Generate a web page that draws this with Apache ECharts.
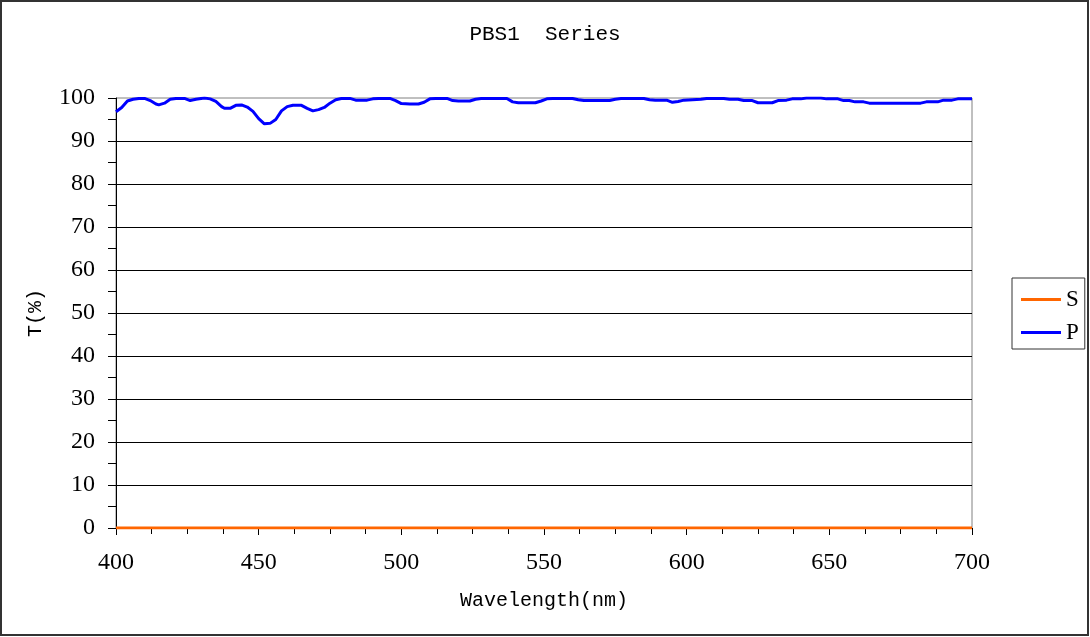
<!DOCTYPE html>
<html>
<head>
<meta charset="utf-8">
<script src="https://cdn.jsdelivr.net/npm/echarts@6/dist/echarts.min.js"></script>
<style>
  html, body { margin: 0; padding: 0; background: #fff; }
  #chart { width: 1090px; height: 637px; }
</style>
</head>
<body>
<div id="chart"></div>
<script>
// Transmission of PBS1 in S and P polarisation, wavelength in nm, T in %
const pWavelength = [400, 402, 404, 406, 408, 410, 412, 414, 415, 417, 419, 421, 424, 426, 428, 431, 433, 435, 437, 438,
  440, 442, 444, 446, 448, 450, 452, 454, 456, 458, 460, 462, 465, 467, 469, 471, 473, 475, 477, 479,
  482, 484, 488, 490, 492, 496, 498, 500, 503, 506, 508, 510, 512, 516, 518, 520, 524, 526, 528, 537,
  539, 541, 547, 549, 551, 553, 560, 562, 564, 573, 575, 577, 585, 587, 589, 593, 595, 597, 599, 602,
  605, 607, 613, 615, 618, 620, 623, 625, 630, 632, 635, 637, 640, 642, 647, 649, 653, 655, 657, 659,
  662, 664, 682, 684, 688, 690, 693, 695, 700];
const pValues = [96.8, 97.8, 99.3, 99.7, 99.9, 99.9, 99.4, 98.6, 98.4, 98.8, 99.7, 99.9, 99.9, 99.4, 99.7, 100, 99.8, 99.2, 98.0, 97.6,
  97.6, 98.3, 98.4, 97.9, 96.9, 95.2, 94.0, 94.1, 95.0, 97.0, 98.0, 98.3, 98.3, 97.6, 97.0, 97.3, 97.8, 98.8, 99.6, 99.9,
  99.9, 99.5, 99.5, 99.8, 99.9, 99.9, 99.4, 98.7, 98.6, 98.6, 99.0, 99.8, 99.9, 99.9, 99.4, 99.3, 99.3, 99.7, 99.9, 99.9,
  99.1, 98.9, 98.9, 99.3, 99.8, 99.9, 99.9, 99.6, 99.4, 99.4, 99.7, 99.9, 99.9, 99.6, 99.5, 99.5, 99.0, 99.2, 99.5, 99.6,
  99.7, 99.9, 99.9, 99.7, 99.7, 99.4, 99.4, 98.9, 98.9, 99.4, 99.5, 99.8, 99.8, 100, 100, 99.8, 99.8, 99.4, 99.4, 99.1,
  99.1, 98.8, 98.8, 99.1, 99.1, 99.5, 99.5, 99.8, 99.8];

const sWavelength = [400, 450, 500, 550, 600, 650, 700];
const sValues = [0, 0, 0, 0, 0, 0, 0];

const seriesNames = ['S', 'P'];

const zip = (xs, ys) => xs.map((x, i) => [x, ys[i]]);

const serif = 'Liberation Serif';
const mono = 'Liberation Mono';

const chart = echarts.init(document.getElementById('chart'), null, { renderer: 'canvas' });
chart.setOption({
  animation: false,
  backgroundColor: '#fff',
  title: {
    text: 'PBS1  Series',
    left: 'center',
    top: 24,
    padding: 0,
    textStyle: { fontFamily: mono, fontSize: 21, fontWeight: 'normal', color: '#000' }
  },
  graphic: [{
    type: 'rect',
    shape: { x: 1, y: 1, width: 1087, height: 634 },
    style: { fill: 'none', stroke: '#333', lineWidth: 2 },
    silent: true
  }],
  legend: {
    orient: 'vertical',
    left: 1012,
    top: 278,
    padding: [10, 6, 5, 9],
    itemGap: 10,
    itemWidth: 40,
    itemHeight: 3,
    icon: 'rect',
    borderColor: '#333',
    borderWidth: 1,
    data: seriesNames,
    textStyle: { fontFamily: serif, fontSize: 23, lineHeight: 22, color: '#000', padding: [0, 0, 0, 0] }
  },
  grid: {
    left: 116, right: 118, top: 98, bottom: 109,
    show: true,
    borderColor: '#808080',
    borderWidth: 1,
    containLabel: false
  },
  xAxis: {
    type: 'value',
    min: 400, max: 700, interval: 50,
    name: 'Wavelength(nm)',
    nameLocation: 'middle',
    nameGap: 63,
    nameTextStyle: { fontFamily: mono, fontSize: 20, color: '#000' },
    axisLine: { show: true, lineStyle: { color: '#000', width: 1 } },
    axisTick: { show: true, length: 7, lineStyle: { color: '#000' } },
    minorTick: { show: true, splitNumber: 4, length: 6, lineStyle: { color: '#000' } },
    axisLabel: { margin: 23, fontFamily: serif, fontSize: 24, color: '#000' },
    splitLine: { show: false }
  },
  yAxis: {
    type: 'value',
    min: 0, max: 100, interval: 10,
    name: 'T(%)',
    nameLocation: 'middle',
    nameGap: 70,
    nameRotate: 90,
    nameTextStyle: { fontFamily: mono, fontSize: 20, color: '#000' },
    axisLine: { show: true, lineStyle: { color: '#000', width: 1 } },
    axisTick: { show: true, length: 8, lineStyle: { color: '#000' } },
    minorTick: { show: true, splitNumber: 2, length: 8, lineStyle: { color: '#000' } },
    axisLabel: { margin: 21, fontFamily: serif, fontSize: 24, color: '#000' },
    splitLine: { show: true, showMinLine: false, showMaxLine: false, lineStyle: { color: '#000', width: 1 } }
  },
  series: [
    {
      name: 'S',
      type: 'line',
      data: zip(sWavelength, sValues),
      symbol: 'none',
      lineStyle: { color: '#FF6600', width: 3 },
      itemStyle: { color: '#FF6600' },
      z: 3
    },
    {
      name: 'P',
      type: 'line',
      data: zip(pWavelength, pValues),
      symbol: 'none',
      lineStyle: { color: '#0000FF', width: 3 },
      itemStyle: { color: '#0000FF' },
      z: 4
    }
  ]
});
</script>
</body>
</html>
